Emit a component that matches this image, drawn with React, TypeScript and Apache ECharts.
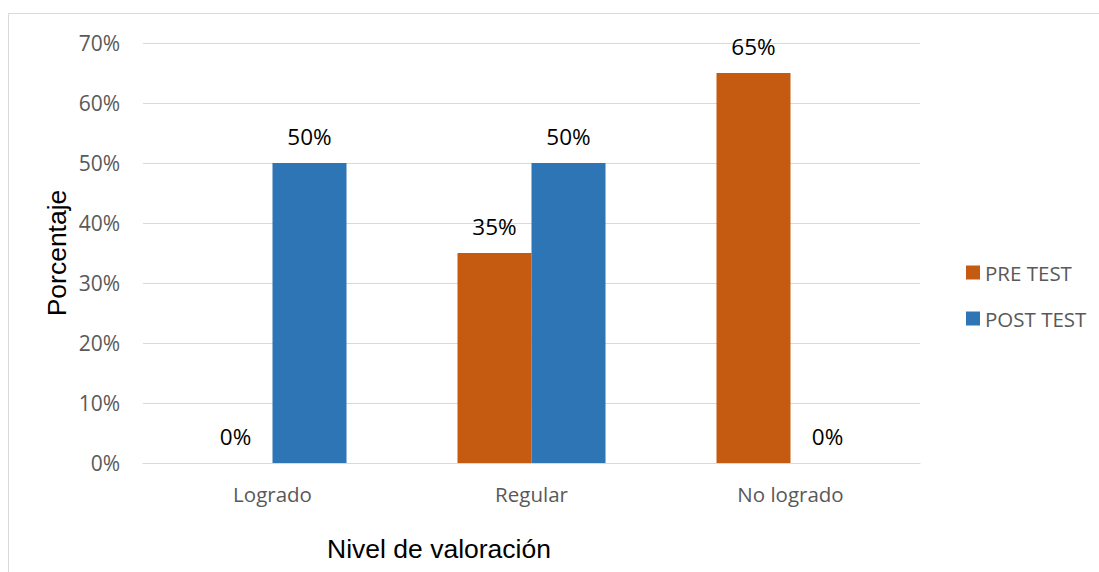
import React, { useEffect, useRef } from "react";
import * as echarts from "echarts";

const categories = ["Logrado", "Regular", "No logrado"];
const preTest = [0, 35, 65];
const postTest = [50, 50, 0];
const seriesNames = ["PRE TEST", "POST TEST"];
const yAxisTitle = "Porcentaje";
const xAxisTitle = "Nivel de valoración";

export default function App() {
  const ref = useRef<HTMLDivElement>(null);
  useEffect(() => {
    if (!ref.current) return;
    const chart = echarts.init(ref.current, undefined, { renderer: "svg" });
    const labelStyle = {
      show: true,
      position: "top" as const,
      distance: 15,
      formatter: "{c}%",
      color: "#000000",
      fontFamily: "Open Sans",
      fontSize: 22.5,
    };
    chart.setOption({
      animation: false,
      backgroundColor: "#ffffff",
      grid: { left: 143, right: 179, top: 43, bottom: 109 },
      legend: {
        orient: "vertical",
        left: 961,
        top: 257,
        itemWidth: 14,
        itemHeight: 14,
        itemGap: 25,
        icon: "rect",
        textStyle: { color: "#595959", fontFamily: "Open Sans", fontSize: 20.5 },
        data: seriesNames,
      },
      xAxis: {
        type: "category",
        data: categories,
        axisLine: { lineStyle: { color: "#d9d9d9", width: 1 } },
        axisTick: { show: false },
        axisLabel: { color: "#595959", fontFamily: "Open Sans", fontSize: 20.5, margin: 20 },
      },
      yAxis: {
        type: "value",
        min: 0,
        max: 70,
        interval: 10,
        axisLine: { show: false },
        axisTick: { show: false },
        splitLine: { lineStyle: { color: "#d9d9d9", width: 1 } },
        axisLabel: {
          formatter: "{value}%",
          color: "#595959",
          fontFamily: "Open Sans",
          fontSize: 21,
          margin: 23,
        },
      },
      series: [
        {
          name: seriesNames[0],
          type: "bar",
          data: preTest,
          barWidth: 74,
          barGap: "0%",
          itemStyle: { color: "#C55A11" },
          label: labelStyle,
        },
        {
          name: seriesNames[1],
          type: "bar",
          data: postTest,
          barWidth: 74,
          barGap: "0%",
          itemStyle: { color: "#2E75B6" },
          label: labelStyle,
        },
      ],
      graphic: [
        {
          type: "rect",
          shape: { x: 8.5, y: 13.5, width: 1200, height: 700 },
          style: { fill: "none", stroke: "#d9d9d9", lineWidth: 1 },
          silent: true,
          z: -10,
        },
        {
          type: "text",
          x: 57,
          y: 253,
          rotation: Math.PI / 2,
          style: {
            text: yAxisTitle,
            fill: "#000000",
            font: '26.5px "Liberation Sans", Arial, sans-serif',
            align: "center",
            verticalAlign: "middle",
          },
        },
        {
          type: "text",
          x: 439,
          y: 549,
          style: {
            text: xAxisTitle,
            fill: "#000000",
            font: '26.5px "Liberation Sans", Arial, sans-serif',
            align: "center",
            verticalAlign: "middle",
          },
        },
      ],
    });
    return () => chart.dispose();
  }, []);
  return (
    <div
      ref={ref}
      style={{ position: "fixed", left: 0, top: 0, width: 1099, height: 572 }}
    />
  );
}
